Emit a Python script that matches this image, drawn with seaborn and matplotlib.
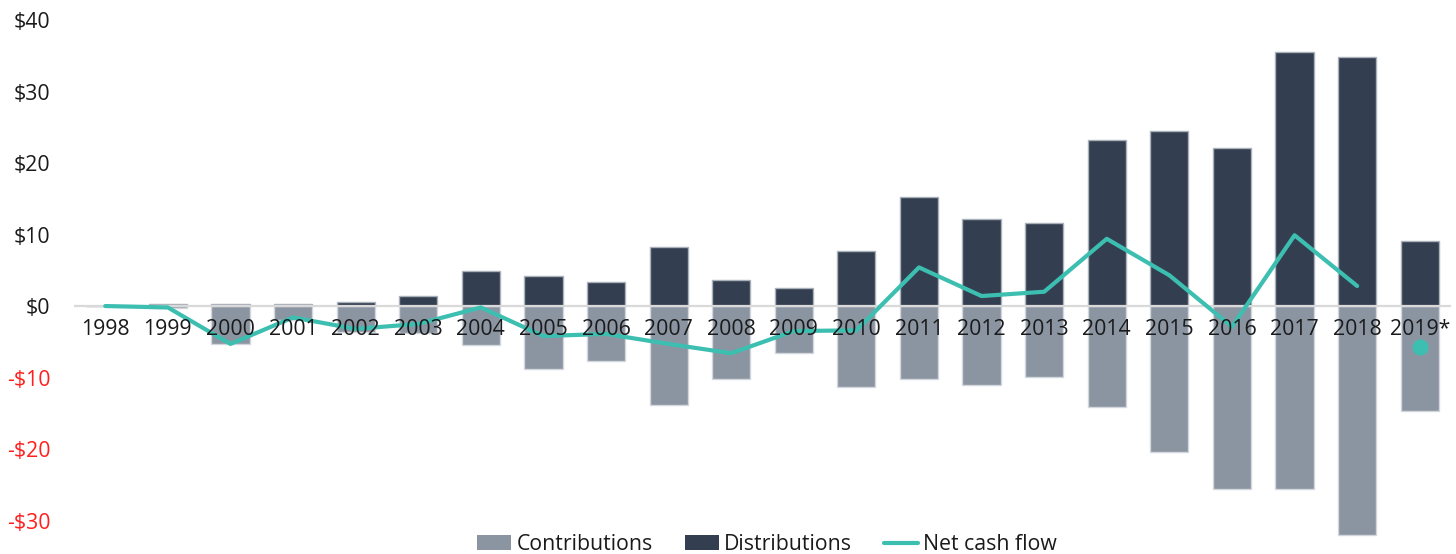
"""
Annual contributions, distributions and net cash flow ($bn), 1998-2019*
"""

import numpy as np
import pandas as pd
import matplotlib
matplotlib.use("Agg")
import matplotlib.pyplot as plt
from matplotlib.patches import Patch
from matplotlib.lines import Line2D
import seaborn as sns

# --- data ---
years = ['1998', '1999', '2000', '2001', '2002', '2003', '2004', '2005', '2006', '2007', '2008',
         '2009', '2010', '2011', '2012', '2013', '2014', '2015', '2016', '2017', '2018', '2019*']
contributions = [0.0, -0.3, -5.3, -1.9, -3.7, -3.8, -5.4, -8.8, -7.7, -13.8, -10.2,
                 -6.6, -11.3, -10.2, -11.0, -9.9, -14.1, -20.4, -25.6, -25.6, -32.0, -14.7]
distributions = [0.0, 0.3, 0.3, 0.3, 0.6, 1.4, 4.9, 4.2, 3.4, 8.3, 3.6,
                 2.5, 7.7, 15.2, 12.2, 11.6, 23.2, 24.5, 22.1, 35.5, 34.8, 9.1]
net_cash_flow = [0.0, -0.2, -5.3, -1.6, -3.2, -2.5, -0.2, -4.2, -3.9, -5.3, -6.6,
                 -3.5, -3.4, 5.4, 1.4, 2.0, 9.4, 4.3, -2.9, 9.9, 2.8]
net_2019 = -5.7   # partial year, shown as a single dot
y_ticks = [-30, -20, -10, 0, 10, 20, 30, 40]

# colours
C_CONTRIB = '#8B95A2'
C_DISTRIB = '#333F50'
C_NET = '#3CBFB1'
C_EDGE = '#D3D7DD'

sns.set_style("white")
plt.rcParams['font.family'] = ['Open Sans', 'DejaVu Sans']
plt.rcParams['font.size'] = 15.3

df = pd.DataFrame({'year': years, 'contributions': contributions,
                   'distributions': distributions})

fig = plt.figure(figsize=(14.56, 5.54), dpi=100)
ax = fig.add_axes([0.0508, 0.0294, 0.9458, 0.9603])

sns.barplot(data=df, x='year', y='contributions', color=C_CONTRIB, width=0.61,
            edgecolor=C_EDGE, linewidth=1, saturation=1, ax=ax, zorder=1)
sns.barplot(data=df, x='year', y='distributions', color=C_DISTRIB, width=0.61,
            edgecolor='#A9B0BA', linewidth=1, saturation=1, ax=ax, zorder=1)

ax.axhline(0, color='#D9D9D9', lw=1.6, zorder=2)

pos = np.arange(len(years))
sns.lineplot(x=pos[:len(net_cash_flow)], y=net_cash_flow, color=C_NET, lw=3.0,
             ax=ax, zorder=3)
ax.scatter([pos[-1]], [net_2019], s=135, color=C_NET, zorder=3, linewidths=0)

ax.set_xlim(-0.5, len(years) - 0.5)
ax.set_ylim(-32.4, 42)
ax.set_yticks(y_ticks)
ax.set_yticklabels([f"${v}" if v >= 0 else f"-${-v}" for v in y_ticks])
for lbl, v in zip(ax.get_yticklabels(), y_ticks):
    lbl.set_color('#FF1F1F' if v < 0 else '#1A1A1A')

ax.set_xlabel('')
ax.set_ylabel('')
ax.spines['bottom'].set_position(('data', 0))
for s in ax.spines.values():
    s.set_visible(False)
ax.tick_params(axis='x', length=0, pad=9, colors='#1A1A1A')
ax.tick_params(axis='y', length=0, pad=17)
ax.xaxis.set_zorder(5)

handles = [Patch(facecolor=C_CONTRIB, edgecolor='none'),
           Patch(facecolor=C_DISTRIB, edgecolor='none'),
           Line2D([0], [0], color=C_NET, lw=3.0)]
fig.legend(handles, ['Contributions', 'Distributions', 'Net cash flow'],
           loc='center', bbox_to_anchor=(0.527, 0.017), ncol=3, frameon=False,
           handlelength=1.6, handletextpad=0.25, columnspacing=1.5,
           labelcolor='#1A1A1A')

fig.savefig('out.png', dpi=100)
